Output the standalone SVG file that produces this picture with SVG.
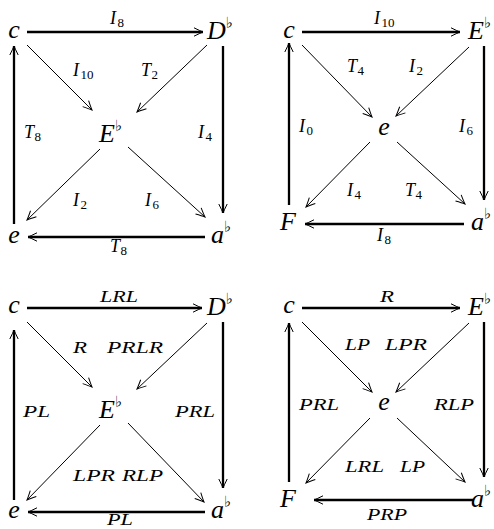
<svg xmlns="http://www.w3.org/2000/svg" width="494" height="529" viewBox="0 0 494 529">
<style>
.n{font-family:"Liberation Serif",serif;font-style:italic;font-size:26px;fill:#000}
.f{font-family:"DejaVu Sans",sans-serif;font-style:normal;font-size:15px}
.l{font-family:"Liberation Serif",serif;font-style:italic;font-size:18px;fill:#000}
.m{font-family:"Liberation Serif",serif;font-style:italic;font-size:16.5px;fill:#000}
.s{font-style:normal;font-size:13px}
.tk{stroke:#000;stroke-width:2.3;fill:none;marker-end:url(#ah)}
.tn{stroke:#000;stroke-width:1;fill:none;marker-end:url(#ah)}
</style>
<defs>
<marker id="ah" markerUnits="userSpaceOnUse" viewBox="-10 -6 12 12" refX="0" refY="0" markerWidth="12" markerHeight="12" orient="auto" overflow="visible">
<path d="M-9,-4.2 Q-3,-1.2 0,0 Q-3,1.2 -9,4.2" fill="none" stroke="#000" stroke-width="1"/>
</marker>
</defs>
<rect width="494" height="529" fill="#fff"/>

<g id="connectors">
<!-- D1 -->
<line class="tk" x1="27" y1="32" x2="203" y2="32"/>
<line class="tk" x1="223" y1="46" x2="223" y2="213"/>
<line class="tk" x1="205" y1="237" x2="28" y2="237"/>
<line class="tk" x1="14" y1="224" x2="14" y2="46"/>
<line class="tn" x1="27" y1="45" x2="92" y2="110"/>
<line class="tn" x1="207" y1="45" x2="137" y2="112"/>
<line class="tn" x1="100" y1="149" x2="27" y2="220"/>
<line class="tn" x1="128" y1="147" x2="205" y2="217"/>
<!-- D2 -->
<line class="tk" x1="302" y1="32" x2="460" y2="32"/>
<line class="tk" x1="484" y1="46" x2="484" y2="200"/>
<line class="tk" x1="464" y1="224" x2="305" y2="224"/>
<line class="tk" x1="289" y1="205" x2="289" y2="43"/>
<line class="tn" x1="302" y1="45" x2="372" y2="117"/>
<line class="tn" x1="469" y1="47" x2="396" y2="116"/>
<line class="tn" x1="370" y1="142" x2="306" y2="207"/>
<line class="tn" x1="397" y1="142" x2="465" y2="204"/>
<!-- D3 -->
<line class="tk" x1="27" y1="308" x2="202" y2="308"/>
<line class="tk" x1="223" y1="322" x2="223" y2="488"/>
<line class="tk" x1="205" y1="512" x2="28" y2="512"/>
<line class="tk" x1="14" y1="500" x2="14" y2="330"/>
<line class="tn" x1="27" y1="322" x2="92" y2="387"/>
<line class="tn" x1="207" y1="323" x2="137" y2="389"/>
<line class="tn" x1="100" y1="425" x2="27" y2="500"/>
<line class="tn" x1="128" y1="423" x2="204" y2="502"/>
<!-- D4 -->
<line class="tk" x1="302" y1="308" x2="460" y2="308"/>
<line class="tk" x1="484" y1="322" x2="484" y2="477"/>
<line class="tk" x1="474" y1="500" x2="314" y2="500"/>
<line class="tk" x1="289" y1="482" x2="289" y2="323"/>
<line class="tn" x1="302" y1="322" x2="372" y2="392"/>
<line class="tn" x1="469" y1="323" x2="396" y2="392"/>
<line class="tn" x1="370" y1="418" x2="306" y2="483"/>
<line class="tn" x1="397" y1="418" x2="465" y2="482"/>
</g>

<g id="labels">
<!-- D1 -->
<text class="l" x="110" y="24">I<tspan class="s" dx="1.5" dy="3">8</tspan></text>
<text class="l" x="73" y="76">I<tspan class="s" dx="1.5" dy="3">10</tspan></text>
<text class="l" x="141" y="76">T<tspan class="s" dx="0.5" dy="3">2</tspan></text>
<text class="l" x="24" y="138">T<tspan class="s" dx="0.5" dy="3">8</tspan></text>
<text class="l" x="198" y="138">I<tspan class="s" dx="1.5" dy="3">4</tspan></text>
<text class="l" x="73" y="206">I<tspan class="s" dx="1.5" dy="3">2</tspan></text>
<text class="l" x="145" y="206">I<tspan class="s" dx="1.5" dy="3">6</tspan></text>
<text class="l" x="110" y="252">T<tspan class="s" dx="0.5" dy="3">8</tspan></text>
<!-- D2 -->
<text class="l" x="374" y="24">I<tspan class="s" dx="1.5" dy="3">10</tspan></text>
<text class="l" x="347" y="72">T<tspan class="s" dx="0.5" dy="3">4</tspan></text>
<text class="l" x="409" y="72">I<tspan class="s" dx="1.5" dy="3">2</tspan></text>
<text class="l" x="299" y="132">I<tspan class="s" dx="1.5" dy="3">0</tspan></text>
<text class="l" x="459" y="132">I<tspan class="s" dx="1.5" dy="3">6</tspan></text>
<text class="l" x="347" y="196">I<tspan class="s" dx="1.5" dy="3">4</tspan></text>
<text class="l" x="405" y="196">T<tspan class="s" dx="0.5" dy="3">4</tspan></text>
<text class="l" x="377" y="241">I<tspan class="s" dx="1.5" dy="3">8</tspan></text>
<!-- D3 -->
<text class="m" x="100" y="302" textLength="38" lengthAdjust="spacingAndGlyphs">LRL</text>
<text class="m" x="73" y="353" textLength="14" lengthAdjust="spacingAndGlyphs">R</text>
<text class="m" x="107" y="353" textLength="56" lengthAdjust="spacingAndGlyphs">PRLR</text>
<text class="m" x="23" y="417" textLength="27" lengthAdjust="spacingAndGlyphs">PL</text>
<text class="m" x="175" y="417" textLength="40" lengthAdjust="spacingAndGlyphs">PRL</text>
<text class="m" x="73" y="481" textLength="42" lengthAdjust="spacingAndGlyphs">LPR</text>
<text class="m" x="122" y="481" textLength="41" lengthAdjust="spacingAndGlyphs">RLP</text>
<text class="m" x="107" y="525" textLength="26" lengthAdjust="spacingAndGlyphs">PL</text>
<!-- D4 -->
<text class="m" x="380" y="302" textLength="14" lengthAdjust="spacingAndGlyphs">R</text>
<text class="m" x="345" y="350" textLength="25" lengthAdjust="spacingAndGlyphs">LP</text>
<text class="m" x="385" y="350" textLength="42" lengthAdjust="spacingAndGlyphs">LPR</text>
<text class="m" x="299" y="410" textLength="40" lengthAdjust="spacingAndGlyphs">PRL</text>
<text class="m" x="434" y="410" textLength="40" lengthAdjust="spacingAndGlyphs">RLP</text>
<text class="m" x="345" y="472" textLength="39" lengthAdjust="spacingAndGlyphs">LRL</text>
<text class="m" x="400" y="472" textLength="25" lengthAdjust="spacingAndGlyphs">LP</text>
<text class="m" x="367" y="520" textLength="40" lengthAdjust="spacingAndGlyphs">PRP</text>
</g>

<!-- D1 nodes -->
<g id="d1-c"><text class="n" x="14" y="38" text-anchor="middle">c</text></g>
<g id="d1-Db"><text class="n" x="207" y="39">D<tspan class="f" dx="0" dy="-11">♭</tspan></text></g>
<g id="d1-Eb"><text class="n" x="99" y="142">E<tspan class="f" dx="0" dy="-11">♭</tspan></text></g>
<g id="d1-e"><text class="n" x="14" y="243" text-anchor="middle">e</text></g>
<g id="d1-ab"><text class="n" x="211" y="243">a<tspan class="f" dx="0" dy="-11">♭</tspan></text></g>
<!-- D2 nodes -->
<g id="d2-c"><text class="n" x="289" y="38" text-anchor="middle">c</text></g>
<g id="d2-Eb"><text class="n" x="468" y="39">E<tspan class="f" dx="0" dy="-11">♭</tspan></text></g>
<g id="d2-e"><text class="n" x="384" y="135" text-anchor="middle">e</text></g>
<g id="d2-F"><text class="n" x="288" y="230" text-anchor="middle">F</text></g>
<g id="d2-ab"><text class="n" x="471" y="230">a<tspan class="f" dx="0" dy="-11">♭</tspan></text></g>
<!-- D3 nodes -->
<g id="d3-c"><text class="n" x="14" y="313" text-anchor="middle">c</text></g>
<g id="d3-Db"><text class="n" x="207" y="315">D<tspan class="f" dx="0" dy="-11">♭</tspan></text></g>
<g id="d3-Eb"><text class="n" x="99" y="418">E<tspan class="f" dx="0" dy="-11">♭</tspan></text></g>
<g id="d3-e"><text class="n" x="14" y="518" text-anchor="middle">e</text></g>
<g id="d3-ab"><text class="n" x="211" y="518">a<tspan class="f" dx="0" dy="-11">♭</tspan></text></g>
<!-- D4 nodes -->
<g id="d4-c"><text class="n" x="289" y="313" text-anchor="middle">c</text></g>
<g id="d4-Eb"><text class="n" x="468" y="315">E<tspan class="f" dx="0" dy="-11">♭</tspan></text></g>
<g id="d4-e"><text class="n" x="384" y="410" text-anchor="middle">e</text></g>
<g id="d4-F"><text class="n" x="288" y="507" text-anchor="middle">F</text></g>
<g id="d4-ab"><text class="n" x="471" y="507">a<tspan class="f" dx="0" dy="-11">♭</tspan></text></g>
</svg>
